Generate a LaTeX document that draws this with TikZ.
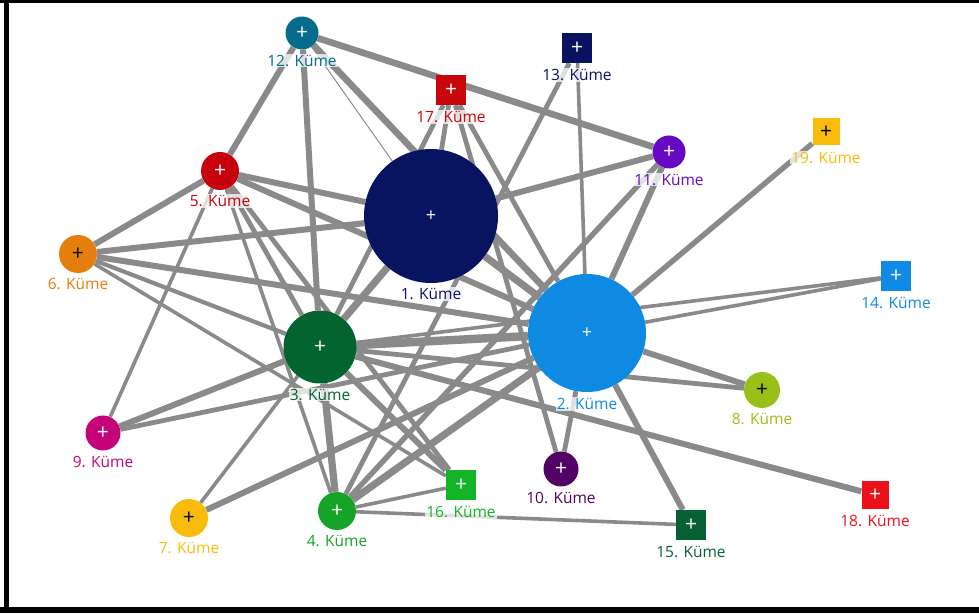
\documentclass[tikz,border=0pt]{standalone}
\usepackage{fontspec}
\setmainfont{Open Sans}
\usepackage{tikz}
\usetikzlibrary{positioning,backgrounds}

\definecolor{k1}{RGB}{8,20,96}
\definecolor{k2}{RGB}{14,138,226}
\definecolor{k3}{RGB}{4,100,48}
\definecolor{k4}{RGB}{22,164,40}
\definecolor{k5}{RGB}{200,2,12}
\definecolor{k6}{RGB}{230,126,14}
\definecolor{k7}{RGB}{250,188,12}
\definecolor{k8}{RGB}{152,192,22}
\definecolor{k9}{RGB}{198,4,122}
\definecolor{k10}{RGB}{82,2,100}
\definecolor{k11}{RGB}{102,8,196}
\definecolor{k12}{RGB}{6,108,140}
\definecolor{k13}{RGB}{10,18,96}
\definecolor{k14}{RGB}{16,138,228}
\definecolor{k15}{RGB}{6,96,52}
\definecolor{k16}{RGB}{20,180,40}
\definecolor{k17}{RGB}{200,6,12}
\definecolor{k18}{RGB}{238,16,24}
\definecolor{k19}{RGB}{250,188,12}
\definecolor{kenargri}{RGB}{138,138,138}

\begin{document}
\begin{tikzpicture}[x=1pt, y=1pt,
    daire/.style={circle, fill=#1, inner sep=0pt, text=white, font=\fontsize{21}{21}\selectfont},
    kare/.style={rectangle, fill=#1, minimum size=30pt, inner sep=0pt, text=white, font=\fontsize{21}{21}\selectfont},
    etiket/.style={text=#1, font=\fontsize{15.5}{17}\selectfont, inner sep=1pt, fill=white, fill opacity=0.75, text opacity=1},
    kenar/.style={draw=kenargri, line width=1.2*#1pt}]

  \useasboundingbox (0,0) rectangle (979,613);
  % frame
  \fill (0,610) rectangle (979,613);
  \fill (4,0) rectangle (9,613);
  \fill (0,0) rectangle (979,6);

  % big clusters
  \node [daire=k1, minimum size=134pt, font=\fontsize{18}{18}\selectfont] at (431,397) (n1) {+};
  \node [daire=k2, minimum size=118pt, font=\fontsize{18}{18}\selectfont] at (587,280) (n2) {+};
  \node [daire=k3, minimum size=73pt] at (320,266) (n3) {+};

  % small circles
  \node [daire=k4, minimum size=38pt] at (337,102) (n4) {+};
  \node [daire=k5, minimum size=38pt] at (220,442) (n5) {+};
  \node [daire=k6, minimum size=38pt, text=black] at (78,359) (n6) {+};
  \node [daire=k7, minimum size=38pt, text=black] at (189,95) (n7) {+};
  \node [daire=k8, minimum size=36pt, text=black] at (762,223) (n8) {+};
  \node [daire=k9, minimum size=35pt] at (103,180) (n9) {+};
  \node [daire=k10, minimum size=35pt] at (561,144) (n10) {+};
  \node [daire=k11, minimum size=33pt] at (669,461) (n11) {+};
  \node [daire=k12, minimum size=33pt] at (302,580) (n12) {+};

  % squares
  \node [kare=k13] at (577,565) (n13) {+};
  \node [kare=k14] at (896,337) (n14) {+};
  \node [kare=k15] at (691,88) (n15) {+};
  \node [kare=k16] at (461,128) (n16) {+};
  \node [kare=k17] at (451,523) (n17) {+};
  \node [kare=k18, minimum size=27pt] at (875,118) (n18) {+};
  \node [kare=k19, minimum size=27pt, text=black] at (826,481) (n19) {+};

  % labels
  \node [etiket=k1, below=4pt of n1] (t1) {1. Küme};
  \node [etiket=k2, below=5pt of n2] (t2) {2. Küme};
  \node [etiket=k3, below=4pt of n3] (t3) {3. Küme};
  \node [etiket=k4, below=4pt of n4] (t4) {4. Küme};
  \node [etiket=k5, below=4pt of n5] (t5) {5. Küme};
  \node [etiket=k6, below=4pt of n6] (t6) {6. Küme};
  \node [etiket=k7, below=4pt of n7] (t7) {7. Küme};
  \node [etiket=k8, below=4pt of n8] (t8) {8. Küme};
  \node [etiket=k9, below=4pt of n9] (t9) {9. Küme};
  \node [etiket=k10, below=4pt of n10] (t10) {10. Küme};
  \node [etiket=k11, below=4pt of n11] (t11) {11. Küme};
  \node [etiket=k12, below=4pt of n12] (t12) {12. Küme};
  \node [etiket=k13, below=5pt of n13] (t13) {13. Küme};
  \node [etiket=k14, below=5pt of n14] (t14) {14. Küme};
  \node [etiket=k15, below=5pt of n15] (t15) {15. Küme};
  \node [etiket=k16, below=5pt of n16] (t16) {16. Küme};
  \node [etiket=k17, below=5pt of n17] (t17) {17. Küme};
  \node [etiket=k18, below=5pt of n18] (t18) {18. Küme};
  \node [etiket=k19, below=5pt of n19] (t19) {19. Küme};

  % connections
  \begin{scope}[on background layer]
    \draw [kenar=5] (n12) -- (n5);  \draw [kenar=5] (n12) -- (n3);
    \draw [kenar=0.8] (n12) -- (n1);  \draw [kenar=5.5] (n12) -- (n2);
    \draw [kenar=5.5] (n12) -- (n11);
    \draw [kenar=4] (n17) -- (n3);  \draw [kenar=4] (n17) -- (n1);
    \draw [kenar=4] (n17) -- (n2);  \draw [kenar=4] (n17) -- (n10);
    \draw [kenar=4] (n13) -- (n4);  \draw [kenar=3] (n13) -- (n2);
    \draw [kenar=5] (n11) -- (n1);  \draw [kenar=5] (n11) -- (n2);
    \draw [kenar=4.5] (n19) -- (n2);
    \draw [kenar=3] (n14) -- (n2);  \draw [kenar=3] (n14) -- (n3);
    \draw [kenar=5] (n8) -- (n2);   \draw [kenar=4] (n8) -- (n3);
    \draw [kenar=5] (n18) -- (n3);
    \draw [kenar=5] (n15) -- (n2);  \draw [kenar=3] (n15) -- (n4);
    \draw [kenar=4] (n10) -- (n2);
    \draw [kenar=5] (n16) -- (n3);  \draw [kenar=3] (n16) -- (n4);
    \draw [kenar=3] (n16) -- (n6);
    \draw [kenar=6] (n4) -- (n3);   \draw [kenar=6] (n4) -- (n2);
    \draw [kenar=4.5] (n4) -- (n11); \draw [kenar=3] (n4) -- (n5);
    \draw [kenar=3] (n7) -- (n3);   \draw [kenar=5] (n7) -- (n2);
    \draw [kenar=3] (n9) -- (n5);   \draw [kenar=5] (n9) -- (n3);
    \draw [kenar=4] (n9) -- (n2);
    \draw [kenar=5] (n6) -- (n5);   \draw [kenar=5] (n6) -- (n1);
    \draw [kenar=5] (n6) -- (n2);   \draw [kenar=3.5] (n6) -- (n3);
    \draw [kenar=5] (n5) -- (n1);   \draw [kenar=5] (n5) -- (n2);
    \draw [kenar=4] (n5) -- (n3);   \draw [kenar=4] (n5) -- (n16);
    \draw [kenar=6] (n1) -- (n2);   \draw [kenar=6] (n1) -- (n3);
    \draw [kenar=7] (n3) -- (n2);
  \end{scope}
\end{tikzpicture}
\end{document}
